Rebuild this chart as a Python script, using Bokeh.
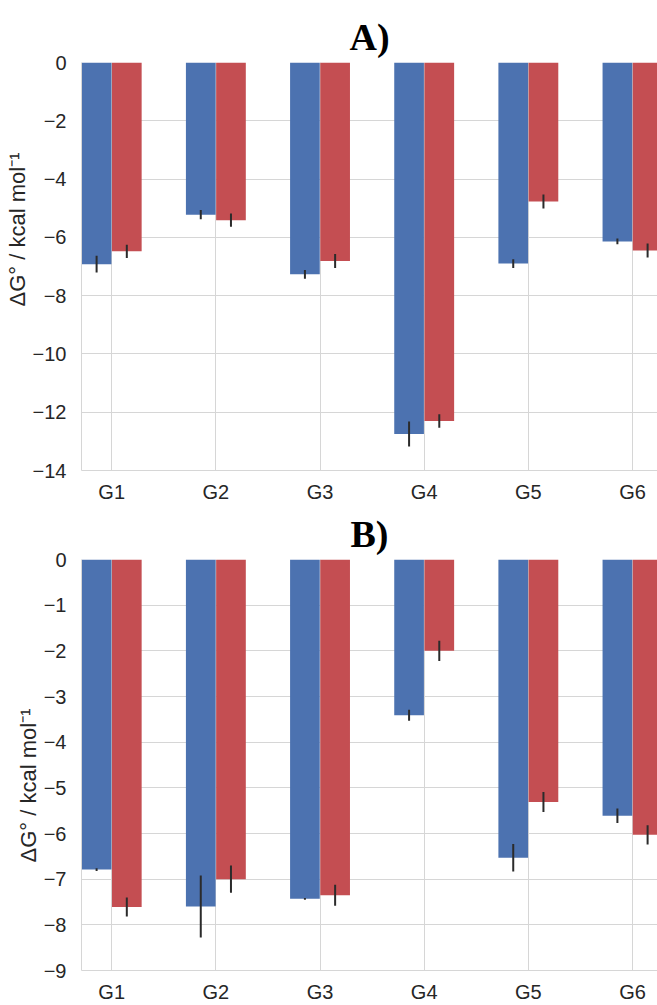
import numpy as np
from bokeh.plotting import figure
from bokeh.layouts import column
from bokeh.models import ColumnDataSource, FixedTicker, Range1d, Title
from bokeh.transform import dodge
from bokeh.embed import file_html
from bokeh.resources import INLINE

# Binding free energies (kcal/mol) for the six guests, two series per panel
groups = ["G1", "G2", "G3", "G4", "G5", "G6"]

a_blue = [-6.92, -5.22, -7.27, -12.75, -6.90, -6.14]
a_blue_err = [0.29, 0.16, 0.15, 0.43, 0.15, 0.10]
a_red = [-6.48, -5.41, -6.81, -12.30, -4.77, -6.45]
a_red_err = [0.23, 0.23, 0.24, 0.23, 0.24, 0.24]

b_blue = [-6.79, -7.60, -7.43, -3.41, -6.53, -5.61]
b_blue_err = [0.03, 0.68, 0.02, 0.12, 0.30, 0.16]
b_red = [-7.61, -7.00, -7.35, -2.00, -5.31, -6.03]
b_red_err = [0.21, 0.30, 0.23, 0.22, 0.22, 0.21]

a_ticks = [0, -2, -4, -6, -8, -10, -12, -14]
b_ticks = [0, -1, -2, -3, -4, -5, -6, -7, -8, -9]

BLUE = "#4C72B0"
RED = "#C44E52"
GRID = "#d6d6d6"
TEXT = "#262626"
SANS = "Liberation Sans"
YLABEL = "ΔG° / kcal mol⁻¹"

BAR_W = 0.285
SHIFT = 0.145
X_START, X_END = -0.29, 5.24


def panel(name, blue, blue_err, red, red_err, ticks, height, top_border, label_offset):
    x = np.arange(len(groups))
    src = ColumnDataSource(dict(
        x=x,
        blue=blue, blue_lo=np.array(blue) - np.array(blue_err), blue_hi=np.array(blue) + np.array(blue_err),
        red=red, red_lo=np.array(red) - np.array(red_err), red_hi=np.array(red) + np.array(red_err),
    ))
    p = figure(width=657, height=height, output_backend="svg", toolbar_location=None,
               x_range=Range1d(X_START, X_END), y_range=Range1d(min(ticks), 0),
               min_border_left=81, min_border_right=0, min_border_top=top_border,
               min_border_bottom=0)
    p.title.text = name
    p.title.align = "center"
    p.title.text_font = "Liberation Serif"
    p.title.text_font_style = "bold"
    p.title.text_font_size = "38px"
    p.title.text_color = "black"

    xb = dodge("x", -SHIFT, range=p.x_range)
    xr = dodge("x", SHIFT, range=p.x_range)
    p.vbar(x=xb, width=BAR_W, top=0, bottom="blue", source=src,
           fill_color=BLUE, line_color=None)
    p.vbar(x=xr, width=BAR_W, top=0, bottom="red", source=src,
           fill_color=RED, line_color=None)
    p.segment(x0=xb, x1=xb, y0="blue_lo", y1="blue_hi", source=src,
              line_color="#2b2b2b", line_width=2)
    p.segment(x0=xr, x1=xr, y0="red_lo", y1="red_hi", source=src,
              line_color="#2b2b2b", line_width=2)

    p.xaxis.ticker = FixedTicker(ticks=list(range(len(groups))))
    p.xaxis.major_label_overrides = {i: g for i, g in enumerate(groups)}
    p.yaxis.ticker = FixedTicker(ticks=ticks)
    p.yaxis.major_label_overrides = {t: str(t).replace("-", "−") for t in ticks}

    for ax in (p.xaxis, p.yaxis):
        ax.axis_line_color = GRID
        ax.major_tick_line_color = None
        ax.minor_tick_line_color = None
        ax.major_label_text_font = SANS
        ax.major_label_text_color = TEXT
        ax.major_label_text_font_size = "20px"
    p.xaxis.major_label_standoff = 4
    p.yaxis.major_label_standoff = 9

    # vertical axis caption, anchored from the bottom of the plot area
    p.add_layout(Title(text=YLABEL, align="left", offset=label_offset,
                       text_font=SANS, text_font_size="22px", text_font_style="normal",
                       text_color=TEXT, standoff=0), "left")

    p.xgrid.grid_line_color = GRID
    p.ygrid.grid_line_color = GRID
    p.outline_line_color = None
    p.background_fill_color = "white"
    p.border_fill_color = "white"
    return p


pa = panel("A)", a_blue, a_blue_err, a_red, a_red_err, a_ticks, 505, 62, 164)
pb = panel("B)", b_blue, b_blue_err, b_red, b_red_err, b_ticks, 500, 54, 108)

layout = column(pa, pb, spacing=0)
open("out.html", "w").write(file_html(layout, INLINE))
